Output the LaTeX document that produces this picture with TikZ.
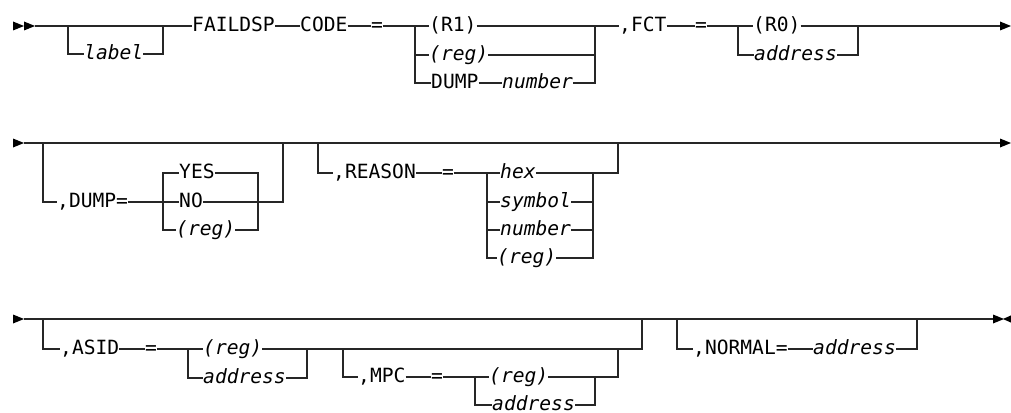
\documentclass[tikz,border=0pt]{standalone}
\usepackage{fontspec}
\setmonofont{DejaVu Sans Mono}

% arrow heads of the rails: base point given, pointing right / left
\newcommand{\railtip}[1]{\fill #1 ++(0,-4.5) -- ++(11,4.5) -- ++(-11,4.5) -- cycle;}
\newcommand{\railback}[1]{\fill #1 ++(0,-4.5) -- ++(-10,4.5) -- ++(10,4.5) -- cycle;}

\begin{document}
\begin{tikzpicture}[x=1pt,y=-1pt,
	tok/.style={font=\ttfamily\fontsize{19.6}{22}\selectfont, inner xsep=0pt, inner ysep=0pt,
		text height=10.7pt, text depth=0pt, anchor=west},
	var/.style={tok, font=\ttfamily\itshape\fontsize{19.6}{22}\selectfont},
	rail/.style={line width=1.5pt, black!85}]
	\useasboundingbox (0,0) rectangle (1011,412);

	% Row 1
	\coordinate (s1) at (35,26);
	\coordinate (e1) at (1000,26);
	\coordinate (la) at (68,26);
	\coordinate (lb) at (163,26);
	\coordinate (ca) at (415,26);
	\coordinate (cb) at (595,26);
	\coordinate (fa) at (738,26);
	\coordinate (fb) at (858,26);
	\node[var] (label) at (84,54) {label};
	\node[tok] (faildsp) at (192,26) {FAILDSP};
	\node[tok] (code) at (300,26) {CODE};
	\node[tok] (eqa) at (371,26) {=};
	\node[tok] (rone) at (429,26) {(R1)};
	\node[var] (rega) at (429,55) {(reg)};
	\node[tok] (dump) at (431,83) {DUMP};
	\node[var] (numa) at (502,83) {number};
	\node[tok] (fct) at (619,26) {,FCT};
	\node[tok] (eqb) at (695,26) {=};
	\node[tok] (rzero) at (753,26) {(R0)};
	\node[var] (addra) at (754,55) {address};
	\draw[rail] (s1) -- (faildsp) -- (code) -- (eqa) -- (rone) -- (fct) -- (eqb) -- (rzero) -- (e1);
	\draw[rail] (la) |- (label) -| (lb);
	\draw[rail] (ca) |- (rega) -| (cb);
	\draw[rail] (ca) |- (dump) -- (numa) -| (cb);
	\draw[rail] (fa) |- (addra) -| (fb);
	\railtip{(13,26)} \railtip{(24,26)} \railtip{(e1)}

	% Row 2
	\coordinate (s2) at (24,143);
	\coordinate (e2) at (1000,143);
	\coordinate (da) at (43,143);
	\coordinate (db) at (283,143);
	\coordinate (dl) at (163,173);
	\coordinate (dr) at (258,173);
	\coordinate (ra) at (318,143);
	\coordinate (rb) at (618,143);
	\coordinate (rl) at (487,173);
	\coordinate (rr) at (593,173);
	\node[tok] (dumpkw) at (57,202) {,DUMP=};
	\node[tok] (yes) at (179,173) {YES};
	\node[tok] (no) at (179,202) {NO};
	\node[var] (regb) at (176,230) {(reg)};
	\node[tok] (reason) at (333,173) {,REASON};
	\node[tok] (eqc) at (442,173) {=};
	\node[var] (hex) at (500,173) {hex};
	\node[var] (symbol) at (500,202) {symbol};
	\node[var] (numb) at (500,230) {number};
	\node[var] (regc) at (497,258) {(reg)};
	\draw[rail] (s2) -- (e2);
	\draw[rail] (da) |- (dumpkw) -- (no) -| (db);
	\draw[rail] (regb) -| (dl) -- (yes) -- (dr) |- (regb);
	\draw[rail] (ra) |- (reason) -- (eqc) -- (hex) -| (rb);
	\draw[rail] (rl) |- (symbol) -| (rr);
	\draw[rail] (rl) |- (numb) -| (rr);
	\draw[rail] (rl) |- (regc) -| (rr);
	\railtip{(13,143)} \railtip{(e2)}

	% Row 3
	\coordinate (s3) at (24,319);
	\coordinate (e3) at (993,319);
	\coordinate (aa) at (43,319);
	\coordinate (ab) at (642,319);
	\coordinate (al) at (188,349);
	\coordinate (ar) at (307,349);
	\coordinate (ma) at (343,349);
	\coordinate (mb) at (618,349);
	\coordinate (ml) at (475,377);
	\coordinate (mr) at (595,377);
	\coordinate (na) at (677,319);
	\coordinate (nb) at (917,319);
	\node[tok] (asid) at (60,349) {,ASID};
	\node[tok] (eqd) at (145,349) {=};
	\node[var] (regd) at (203,349) {(reg)};
	\node[var] (addrb) at (203,378) {address};
	\node[tok] (mpc) at (358,377) {,MPC};
	\node[tok] (eqe) at (431,377) {=};
	\node[var] (rege) at (489,377) {(reg)};
	\node[var] (addrc) at (492,405) {address};
	\node[tok] (normal) at (693,349) {,NORMAL=};
	\node[var] (addrd) at (813,349) {address};
	\draw[rail] (s3) -- (e3);
	\draw[rail] (aa) |- (asid) -- (eqd) -- (regd) -| (ab);
	\draw[rail] (al) |- (addrb) -| (ar);
	\draw[rail] (ma) |- (mpc) -- (eqe) -- (rege) -| (mb);
	\draw[rail] (ml) |- (addrc) -| (mr);
	\draw[rail] (na) |- (normal) -- (addrd) -| (nb);
	\railtip{(13,319)} \railtip{(e3)} \railback{(1013,319)}
\end{tikzpicture}
\end{document}
